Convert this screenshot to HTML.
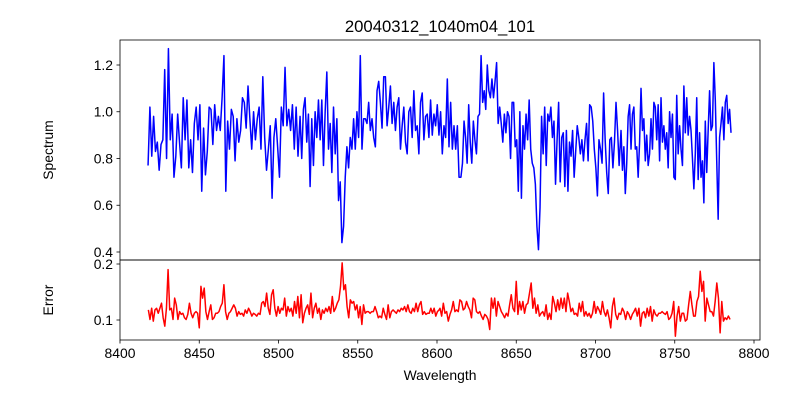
<!DOCTYPE html>
<html><head><meta charset="utf-8"><style>
html,body{margin:0;padding:0;background:#fff}
svg{display:block;font-family:"Liberation Sans","DejaVu Sans",sans-serif}
</style></head><body>
<svg id="chart" width="800" height="400" viewBox="0 0 800 400" xmlns="http://www.w3.org/2000/svg">
<defs>
<clipPath id="ctop"><rect x="120" y="40" width="640" height="220"/></clipPath>
<clipPath id="cbot"><rect x="120" y="260" width="640" height="80"/></clipPath>
</defs>
<rect x="0" y="0" width="800" height="400" fill="#fff"/>
<text x="440" y="32" text-anchor="middle" font-size="16.7">20040312_1040m04_101</text>
<g id="topPanel"></g>
<g id="botPanel"></g>
<text transform="translate(53,150) rotate(-90)" text-anchor="middle" font-size="13.9">Spectrum</text>
<text transform="translate(53,300) rotate(-90)" text-anchor="middle" font-size="13.9">Error</text>
<text x="440" y="380" text-anchor="middle" font-size="13.9">Wavelength</text>
</svg>
<script>
const xTicks=[8400,8450,8500,8550,8600,8650,8700,8750,8800];
const fluxTicks=[0.4,0.6,0.8,1.0,1.2];
const errTicks=[0.1,0.2];
const fluxSegStart=[8417.7,8513.6,8615.1,8716.1];
const fluxSegEnd=[8512.3,8613.9,8714.9,8785.5];
const flux1=[0.77,1.02,0.81,0.98,0.83,0.87,0.75,0.86,0.88,1.18,0.80,1.27,0.88,0.99,0.72,0.81,0.99,0.87,0.76,1.06,0.88,1.05,0.76,0.88,0.74,0.95,1.02,0.88,1.03,0.66,0.93,0.73,0.83,1.02,1.01,0.86,1.03,0.92,0.98,0.92,1.06,1.24,0.66,0.96,0.84,1.01,0.98,0.79,0.97,0.87,0.92,1.06,1.04,0.93,1.11,0.97,0.84,1.0,0.88,0.97,1.02,0.84,1.15,0.89,0.75,0.84,0.94,0.63,0.89,0.97,0.85,0.72,1.02,0.94,1.19,0.94,1.01,0.92,1.03,0.84,1.02,0.81];
const flux2=[0.98,0.80,1.01,1.06,0.87,0.99,0.68,0.97,0.77,1.0,0.89,1.05,0.88,1.05,0.77,1.0,1.17,0.84,0.95,0.74,1.02,0.82,0.97,0.62,0.70,0.44,0.51,0.72,0.85,0.76,0.89,0.84,0.97,0.84,1.0,0.89,1.24,0.84,0.97,0.97,0.95,1.04,0.92,0.97,0.89,0.85,1.09,1.13,1.04,0.93,1.15,1.15,0.94,1.02,1.11,0.95,1.04,0.92,1.02,1.06,0.84,0.94,1.02,0.87,0.82,1.0,1.02,0.89,1.09,0.92,0.94,0.82,1.04,1.08,0.88,0.98,0.99,0.89,1.05,0.90,0.99,0.94,1.03,0.90,1.0,0.82,0.94,0.89,1.14,0.85,1.04,0.84,0.94,0.84,0.94,0.72];
const flux3=[0.72,0.78,0.96,0.89,0.78,1.03,0.87,0.78,0.96,0.88,0.82,0.98,0.99,1.24,1.04,1.09,1.01,1.2,1.09,1.06,1.14,1.06,1.13,1.21,0.95,1.02,0.95,0.87,0.99,0.91,1.0,0.98,0.80,1.04,1.04,0.85,0.88,0.66,1.0,0.63,0.94,0.84,0.99,0.88,1.05,0.84,0.78,0.76,0.69,0.51,0.41,0.59,0.98,0.82,1.02,0.77,0.99,0.96,1.02,0.89,0.96,0.69,0.88,1.04,0.70,0.89,0.91,0.68,0.92,0.66,0.87,0.81,0.92,0.72,0.83,0.94,0.89,0.82,0.88,0.79,0.88,0.95,0.79,1.03,1.02,0.96,0.84,0.76,0.64,0.88,0.84,0.78,1.08,0.88,0.74,0.65,0.88,0.89,0.76,0.87,1.04,0.92,0.77];
const flux4=[0.92,0.75,0.85,0.65,0.78,0.98,1.03,0.84,0.99,1.02,0.84,0.85,0.72,0.87,1.10,0.92,0.97,0.79,0.90,0.77,0.82,0.97,0.84,1.04,1.02,0.88,1.03,0.79,1.06,0.87,0.94,0.84,0.91,0.76,1.0,0.89,0.99,0.72,0.71,1.07,0.82,0.94,0.84,0.77,1.11,0.91,1.06,0.90,0.98,0.92,0.80,0.67,0.82,1.06,0.71,0.91,0.72,0.79,0.61,0.96,0.74,0.92,1.09,0.92,0.94,1.21,1.05,0.79,0.54,0.89,0.95,1.02,0.88,1.04,1.07,0.95,1.01,0.91];
const errSegStart=[8417.9,8601.9];
const errSegEnd=[8601.3,8784.9];
const err1=[0.118,0.101,0.121,0.098,0.118,0.121,0.112,0.121,0.130,0.104,0.089,0.121,0.190,0.118,0.121,0.101,0.139,0.127,0.101,0.115,0.110,0.112,0.104,0.101,0.110,0.130,0.112,0.104,0.112,0.115,0.112,0.086,0.160,0.139,0.157,0.115,0.101,0.115,0.127,0.101,0.104,0.112,0.112,0.115,0.124,0.130,0.163,0.115,0.101,0.112,0.115,0.121,0.127,0.121,0.107,0.115,0.110,0.112,0.107,0.118,0.112,0.121,0.115,0.107,0.112,0.110,0.107,0.112,0.110,0.130,0.133,0.124,0.148,0.121,0.110,0.145,0.154,0.121,0.107,0.124,0.112,0.121,0.118,0.139,0.107,0.124,0.115,0.121,0.107,0.133,0.112,0.142,0.104,0.145,0.095,0.112,0.121,0.127,0.110,0.148,0.104,0.121,0.130,0.112,0.121,0.101,0.118,0.112,0.121,0.115,0.124,0.112,0.142,0.115,0.121,0.130,0.136,0.160,0.202,0.154,0.163,0.124,0.104,0.136,0.130,0.133,0.118,0.127,0.104,0.124,0.092,0.127,0.112,0.115,0.115,0.112,0.115,0.115,0.124,0.115,0.104,0.107,0.104,0.121,0.110,0.101,0.127,0.104,0.115,0.118,0.115,0.112,0.118,0.115,0.121,0.118,0.124,0.115,0.127,0.115,0.112,0.121,0.115,0.130,0.115,0.127,0.133,0.110,0.115,0.110,0.112,0.112,0.121,0.112,0.121,0.107,0.115,0.118];
const err2=[0.121,0.107,0.130,0.112,0.115,0.098,0.110,0.118,0.133,0.115,0.118,0.115,0.136,0.133,0.118,0.121,0.133,0.124,0.118,0.104,0.139,0.136,0.115,0.112,0.115,0.107,0.101,0.110,0.107,0.101,0.083,0.139,0.121,0.139,0.107,0.133,0.124,0.115,0.110,0.104,0.112,0.107,0.127,0.145,0.121,0.115,0.169,0.110,0.133,0.118,0.133,0.112,0.127,0.130,0.148,0.166,0.121,0.139,0.112,0.127,0.107,0.112,0.115,0.107,0.127,0.101,0.112,0.101,0.142,0.130,0.115,0.136,0.118,0.139,0.121,0.139,0.115,0.148,0.133,0.115,0.121,0.110,0.112,0.107,0.130,0.115,0.133,0.107,0.115,0.107,0.112,0.104,0.112,0.133,0.112,0.124,0.118,0.110,0.133,0.115,0.107,0.118,0.104,0.086,0.124,0.139,0.110,0.101,0.112,0.110,0.121,0.115,0.101,0.115,0.110,0.101,0.110,0.115,0.121,0.107,0.121,0.089,0.112,0.115,0.104,0.121,0.107,0.124,0.098,0.118,0.110,0.107,0.112,0.112,0.115,0.112,0.110,0.115,0.101,0.104,0.112,0.133,0.071,0.107,0.124,0.098,0.112,0.112,0.098,0.101,0.127,0.151,0.127,0.107,0.107,0.133,0.142,0.187,0.151,0.169,0.098,0.139,0.127,0.115,0.115,0.107,0.133,0.166,0.139,0.077,0.133,0.098,0.104,0.101,0.107,0.101];

const NS='http://www.w3.org/2000/svg';
const L=120,R=760;
const xMin=8400,xMax=8400+(R-L)/1.585;
function xs(w){return L+(w-xMin)/(xMax-xMin)*(R-L);}
function yf(v){return 252-(v-0.4)*233.75;}
function ye(v){return 264+(0.2-v)*560;}
function mk(tag,attrs,parent){const e=document.createElementNS(NS,tag);for(const k in attrs)e.setAttribute(k,attrs[k]);parent.appendChild(e);return e;}
function seriesPoints(starts,ends,arrs){
  const pts=[];
  arrs.forEach((a,i)=>{const n=a.length;a.forEach((v,j)=>{pts.push([starts[i]+(ends[i]-starts[i])*j/(n-1),v]);});});
  return pts;
}
const topG=document.getElementById('topPanel'),botG=document.getElementById('botPanel');
const fp=seriesPoints(fluxSegStart,fluxSegEnd,[flux1,flux2,flux3,flux4]);
const fl=mk('polyline',{points:fp.map(p=>xs(p[0]).toFixed(2)+','+yf(p[1]).toFixed(2)).join(' '),fill:'none',stroke:'#0000ff','stroke-width':1.5,'stroke-linejoin':'round','clip-path':'url(#ctop)'},topG);


const ep=seriesPoints(errSegStart,errSegEnd,[err1,err2]);
const el=mk('polyline',{points:ep.map(p=>xs(p[0]).toFixed(2)+','+ye(p[1]).toFixed(2)).join(' '),fill:'none',stroke:'#ff0000','stroke-width':1.5,'stroke-linejoin':'round','clip-path':'url(#cbot)'},botG);


const f1=mk('rect',{x:L,y:40,width:R-L,height:220,fill:'none',stroke:'#000','stroke-width':0.8},topG);


const f2=mk('rect',{x:L,y:260,width:R-L,height:80,fill:'none',stroke:'#000','stroke-width':0.8},botG);


fluxTicks.forEach(t=>{const y=yf(t);
  const tk=mk('line',{x1:L-3.5,x2:L,y1:y,y2:y,stroke:'#000','stroke-width':0.8},topG);
  
  
  const tx=mk('text',{x:L-7,y:y+4.8,'text-anchor':'end','font-size':13.9},topG);tx.textContent=t.toFixed(1);
  
  
});
errTicks.forEach(t=>{const y=ye(t);
  const tk=mk('line',{x1:L-3.5,x2:L,y1:y,y2:y,stroke:'#000','stroke-width':0.8},botG);
  
  
  const tx=mk('text',{x:L-7,y:y+4.8,'text-anchor':'end','font-size':13.9},botG);tx.textContent=t.toFixed(1);
  
  
});
xTicks.forEach(t=>{const x=xs(t);
  const tk=mk('line',{x1:x,x2:x,y1:340,y2:343.5,stroke:'#000','stroke-width':0.8},botG);
  
  
  const tx=mk('text',{x:x,y:358,'text-anchor':'middle','font-size':13.9},botG);tx.textContent=t;
  
  
});
</script>
</body></html>
